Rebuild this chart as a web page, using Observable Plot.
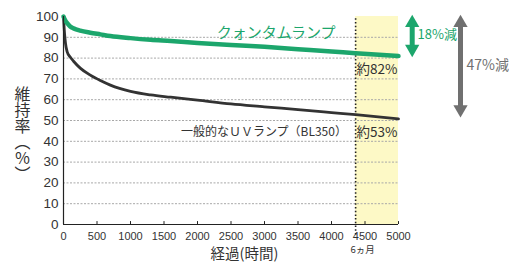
<!DOCTYPE html>
<html><head><meta charset="utf-8">
<script src="https://cdn.jsdelivr.net/npm/d3@7"></script>
<script src="https://cdn.jsdelivr.net/npm/@observablehq/plot@0.6"></script>
<style>
body{margin:0;background:#fff;}
#chart svg{overflow:visible;}
</style></head>
<body><div id="chart"></div>
<script>
// Data
const hours      = [0, 15, 30, 55, 100, 150, 250, 400, 550, 700, 1000, 1300, 1600, 2000, 2500, 3000, 3500, 4000, 4360, 5000];
const quantum    = [100, 98.8, 97.9, 96.8, 95.2, 94.3, 93.2, 92.2, 91.4, 90.6, 89.6, 88.8, 88.2, 87.3, 86.3, 85.4, 84.3, 83.2, 82.3, 81.0];
const uvLamp     = [100, 92, 87, 83, 80.5, 78.5, 75.2, 71.8, 69.2, 67.0, 64.0, 62.3, 61.2, 59.8, 58.0, 56.6, 55.2, 53.8, 52.8, 50.8];
const seriesNames = ["クォンタムランプ", "一般的なＵＶランプ（BL350）"];
const xTicks = [0, 500, 1000, 1500, 2000, 2500, 3000, 3500, 4000, 4500, 5000];
const yTicks = [0, 10, 20, 30, 40, 50, 60, 70, 80, 90, 100];
const gridValues = [10, 20, 30, 40, 50, 60, 70, 80, 90];
const sixMonths = 4360;           // 6ヵ月 marker (hours)
const sixMonthLabel = "6ヵ月";
const endValues = [82, 53];        // 約82%, 約53%
const endLabels = ["約82%", "約53%"];
const reductions = ["18%減", "47%減"];
const yLabel = "維持率（％）";
const xLabel = "経過(時間)";
// series label anchor (x in hours, y in %)
const seriesLabelX = [4060, 4230];
const seriesLabelY = [91.8, 44.6];

const green = "#1ca66c";
const dark = "#333333";
const gray = "#707070";
const jp = "'Noto Sans CJK JP', 'Noto Sans', sans-serif";
const num = "'Liberation Sans', Arial, sans-serif";

const rows = [];
hours.forEach((h, i) => {
  rows.push({series: seriesNames[0], h, v: quantum[i]});
  rows.push({series: seriesNames[1], h, v: uvLamp[i]});
});
const band = [{x1: sixMonths, x2: xTicks[xTicks.length - 1], y1: 0, y2: 100}];
const arrows = [
  {from: 100, to: endValues[0], label: reductions[0], color: green, dx: 13.7, tdx: 19, fs: 13},
  {from: 100, to: endValues[1], label: reductions[1], color: gray, dx: 62, tdx: 68, fs: 14}
];
const labels = seriesNames.map((s, i) => ({s, x: seriesLabelX[i], y: seriesLabelY[i]}));

const marks = [
  Plot.rect(band, {x1: "x1", x2: "x2", y1: "y1", y2: "y2", fill: "#fdf9c6"}),
  Plot.ruleY(gridValues, {stroke: "#a8a8a8", strokeWidth: 1, strokeDasharray: "2,1.5"}),
  Plot.ruleX([sixMonths], {y1: -5, y2: 100, stroke: "#222", strokeWidth: 1.6, strokeDasharray: "1.5,2.2"}),
  Plot.line(rows.filter(d => d.series === seriesNames[1]), {x: "h", y: "v", stroke: dark, strokeWidth: 2.8, curve: "monotone-x"}),
  Plot.line(rows.filter(d => d.series === seriesNames[0]), {x: "h", y: "v", stroke: green, strokeWidth: 4.5, curve: "monotone-x"}),
  Plot.ruleX([0], {y1: 0, y2: 100, stroke: "#222", strokeWidth: 1.2}),
  Plot.ruleY([0], {stroke: "#222", strokeWidth: 1.2}),
  Plot.ruleX(xTicks, {y1: 0, y2: 1.4, stroke: "#222"}),
  Plot.axisX({ticks: xTicks, tickFormat: d => String(d), tickSize: 0, tickPadding: 7.5, fontSize: 11, fontFamily: num, fill: "#333", label: null}),
  Plot.axisY({ticks: yTicks, tickFormat: d => String(d), tickSize: 0, tickPadding: 5, fontSize: 13.5, fontFamily: num, fill: "#333", label: null}),
  // series labels
  Plot.text([labels[0]], {x: "x", y: "y", text: "s", textAnchor: "end", fill: green, fontSize: 15, fontFamily: jp}),
  Plot.text([labels[1]], {x: "x", y: "y", text: "s", textAnchor: "end", fill: dark, fontSize: 12, fontFamily: jp}),
  // end value labels
  Plot.text([0], {x: () => 5000, y: () => endValues[0], text: () => endLabels[0], textAnchor: "end", dx: -1, dy: 16, fill: dark, fontSize: 13.5, fontFamily: jp}),
  Plot.text([0], {x: () => 5000, y: () => endValues[1], text: () => endLabels[1], textAnchor: "end", dx: -1, dy: 18, fill: dark, fontSize: 13.5, fontFamily: jp}),
  // 6ヵ月
  Plot.text([sixMonthLabel], {x: () => sixMonths, frameAnchor: "bottom", dy: 28, dx: 7, text: d => d, fill: "#333", fontSize: 9.5, fontFamily: jp}),
  // axis titles
  Plot.text([yLabel], {frameAnchor: "left", dx: -41, dy: -40, text: d => d, textAnchor: "start", fill: "#333", fontSize: 16, fontFamily: jp}),
  Plot.text([xLabel], {frameAnchor: "bottom", dx: 13.5, dy: 34, text: d => d, fill: "#333", fontSize: 14.5, fontFamily: jp})
];
for (const a of arrows) {
  marks.push(
    Plot.ruleX([a], {x: () => 5000, y1: "from", y2: "to", dx: a.dx, stroke: a.color, strokeWidth: 5, insetTop: 6, insetBottom: 6}),
    Plot.dot([a], {x: () => 5000, y: "from", dx: a.dx, dy: 6.5, symbol: "triangle", r: 5.3, fill: a.color, stroke: "none"}),
    Plot.dot([a], {x: () => 5000, y: "to", dx: a.dx, dy: -5, symbol: "triangle", rotate: 180, r: 5.3, fill: a.color, stroke: "none"}),
    Plot.text([a], {x: () => 5000, y: d => (d.from + d.to) / 2, dx: a.tdx, text: "label", textAnchor: "start", fill: a.color, fontSize: a.fs, fontFamily: jp})
  );
}

const chart = Plot.plot({
  width: 509,
  height: 265,
  marginLeft: 63,
  marginRight: 111,
  marginTop: 16,
  marginBottom: 41,
  x: {domain: [0, 5000], axis: null},
  y: {domain: [0, 100], axis: null},
  style: {background: "#fff", color: "#333"},
  marks
});
// set the y-axis title in vertical writing mode
chart.querySelectorAll("text").forEach(t => {
  if (t.textContent === yLabel) {
    t.setAttribute("writing-mode", "vertical-rl");
    t.style.writingMode = "vertical-rl";
    t.setAttribute("text-anchor", "start");
    t.removeAttribute("dy");
  }
});
document.getElementById("chart").appendChild(chart);
</script>
</body></html>
